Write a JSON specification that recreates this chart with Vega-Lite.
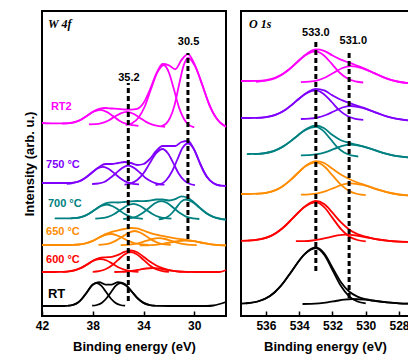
{
"$schema":"https://vega.github.io/schema/vega-lite/v6.json",
"padding":{"left":22,"top":10,"right":0,"bottom":0},
"spacing":15,
"bounds":"flush",
"resolve":{"scale":{"x":"independent","y":"independent"}},
"config":{"view":{"stroke":"#000","strokeWidth":2},"font":"Liberation Sans",
"axis":{"grid":false,"domain":false,"labelOverlap":false,"labelFont":"Liberation Sans","labelFontWeight":"bold","labelFontSize":12,"labelColor":"#000","titleFont":"Liberation Sans","titleFontWeight":"bold","titleFontSize":13,"titleColor":"#000","tickColor":"#000","tickWidth":1.5,"tickSize":-5,"labelPadding":9,"labelFlush":false,"titlePadding":9}},
"datasets":{
"w":[
{"s":"RT2","c":"e","E":42,"I":193},{"s":"RT2","c":"e","E":41,"I":192.6},{"s":"RT2","c":"e","E":40,"I":192.7},{"s":"RT2","c":"e","E":39.5,"I":193.6},{"s":"RT2","c":"e","E":39,"I":195.9},{"s":"RT2","c":"e","E":38.5,"I":199.7},{"s":"RT2","c":"e","E":38,"I":204.2},{"s":"RT2","c":"e","E":37.5,"I":207.2},{"s":"RT2","c":"e","E":37,"I":208},{"s":"RT2","c":"e","E":36.5,"I":207.5},{"s":"RT2","c":"e","E":36,"I":207.1},{"s":"RT2","c":"e","E":35.5,"I":206.5},{"s":"RT2","c":"e","E":35,"I":206.4},{"s":"RT2","c":"e","E":34.5,"I":207.1},{"s":"RT2","c":"e","E":34,"I":212.9},{"s":"RT2","c":"e","E":33.5,"I":226.2},{"s":"RT2","c":"e","E":33,"I":242.1},{"s":"RT2","c":"e","E":32.5,"I":252},{"s":"RT2","c":"e","E":32,"I":250.7},{"s":"RT2","c":"e","E":31.5,"I":246.8},{"s":"RT2","c":"e","E":31,"I":256.1},{"s":"RT2","c":"e","E":30.5,"I":261.9},{"s":"RT2","c":"e","E":30,"I":252.4},{"s":"RT2","c":"e","E":29.5,"I":235.8},{"s":"RT2","c":"e","E":29,"I":217.6},{"s":"RT2","c":"e","E":28.5,"I":202.8},{"s":"RT2","c":"e","E":28,"I":193.8},{"s":"RT2","c":"e","E":27.5,"I":189.4},
{"s":"RT2","c":"a","E":32.6,"I":189.9},{"s":"RT2","c":"a","E":32.25,"I":192},{"s":"RT2","c":"a","E":31.9,"I":198.3},{"s":"RT2","c":"a","E":31.55,"I":211.1},{"s":"RT2","c":"a","E":31.2,"I":231.2},{"s":"RT2","c":"a","E":30.85,"I":250},{"s":"RT2","c":"a","E":30.5,"I":258.2},{"s":"RT2","c":"a","E":29.93,"I":249.6},{"s":"RT2","c":"a","E":29.35,"I":230.5},{"s":"RT2","c":"a","E":28.78,"I":209.9},{"s":"RT2","c":"a","E":28.2,"I":196.8},{"s":"RT2","c":"a","E":27.63,"I":190.2},{"s":"RT2","c":"a","E":27.5,"I":189.3},
{"s":"RT2","c":"b","E":35.4,"I":191},{"s":"RT2","c":"b","E":34.9,"I":192.8},{"s":"RT2","c":"b","E":34.4,"I":198.3},{"s":"RT2","c":"b","E":33.9,"I":209.5},{"s":"RT2","c":"b","E":33.4,"I":227.3},{"s":"RT2","c":"b","E":32.9,"I":243.8},{"s":"RT2","c":"b","E":32.4,"I":251},{"s":"RT2","c":"b","E":32,"I":243.5},{"s":"RT2","c":"b","E":31.6,"I":226.5},{"s":"RT2","c":"b","E":31.2,"I":208.4},{"s":"RT2","c":"b","E":30.8,"I":196.8},{"s":"RT2","c":"b","E":30.4,"I":190.9},{"s":"RT2","c":"b","E":30,"I":188.7},
{"s":"RT2","c":"c","E":40.4,"I":192.5},{"s":"RT2","c":"c","E":39.9,"I":192.8},{"s":"RT2","c":"c","E":39.4,"I":193.9},{"s":"RT2","c":"c","E":38.9,"I":196.5},{"s":"RT2","c":"c","E":38.4,"I":200.7},{"s":"RT2","c":"c","E":37.9,"I":204.5},{"s":"RT2","c":"c","E":37.4,"I":206.1},{"s":"RT2","c":"c","E":36.9,"I":204.1},{"s":"RT2","c":"c","E":36.4,"I":199.9},{"s":"RT2","c":"c","E":35.9,"I":195.3},{"s":"RT2","c":"c","E":35.4,"I":192.3},{"s":"RT2","c":"c","E":34.9,"I":190.8},{"s":"RT2","c":"c","E":34.4,"I":190.1},
{"s":"RT2","c":"d","E":38.3,"I":191.6},{"s":"RT2","c":"d","E":37.8,"I":191.8},{"s":"RT2","c":"d","E":37.3,"I":192.9},{"s":"RT2","c":"d","E":36.8,"I":195.3},{"s":"RT2","c":"d","E":36.3,"I":199.1},{"s":"RT2","c":"d","E":35.8,"I":202.7},{"s":"RT2","c":"d","E":35.3,"I":204.2},{"s":"RT2","c":"d","E":34.8,"I":202.3},{"s":"RT2","c":"d","E":34.3,"I":198.3},{"s":"RT2","c":"d","E":33.8,"I":194.1},{"s":"RT2","c":"d","E":33.3,"I":191.3},{"s":"RT2","c":"d","E":32.8,"I":189.8},{"s":"RT2","c":"d","E":32.3,"I":189.2},
{"s":"750","c":"e","E":42,"I":133},{"s":"750","c":"e","E":41,"I":133},{"s":"750","c":"e","E":40,"I":133},{"s":"750","c":"e","E":39.5,"I":133.4},{"s":"750","c":"e","E":39,"I":135},{"s":"750","c":"e","E":38.5,"I":139},{"s":"750","c":"e","E":38,"I":144},{"s":"750","c":"e","E":37.5,"I":149},{"s":"750","c":"e","E":37,"I":152},{"s":"750","c":"e","E":36.5,"I":152},{"s":"750","c":"e","E":36,"I":153},{"s":"750","c":"e","E":35.5,"I":154},{"s":"750","c":"e","E":35,"I":153},{"s":"750","c":"e","E":34.5,"I":151},{"s":"750","c":"e","E":34,"I":152},{"s":"750","c":"e","E":33.5,"I":157},{"s":"750","c":"e","E":33,"I":165},{"s":"750","c":"e","E":32.5,"I":170},{"s":"750","c":"e","E":32,"I":170},{"s":"750","c":"e","E":31.5,"I":170},{"s":"750","c":"e","E":31,"I":174},{"s":"750","c":"e","E":30.5,"I":175},{"s":"750","c":"e","E":30,"I":166},{"s":"750","c":"e","E":29.5,"I":151},{"s":"750","c":"e","E":29,"I":139},{"s":"750","c":"e","E":28.5,"I":133},{"s":"750","c":"e","E":28,"I":130.5},{"s":"750","c":"e","E":27.5,"I":130},
{"s":"750","c":"a","E":33.05,"I":131},{"s":"750","c":"a","E":32.63,"I":132},{"s":"750","c":"a","E":32.2,"I":136},{"s":"750","c":"a","E":31.78,"I":144},{"s":"750","c":"a","E":31.35,"I":156},{"s":"750","c":"a","E":30.93,"I":168},{"s":"750","c":"a","E":30.5,"I":172.5},{"s":"750","c":"a","E":30.08,"I":168},{"s":"750","c":"a","E":29.65,"I":156},{"s":"750","c":"a","E":29.23,"I":144},{"s":"750","c":"a","E":28.8,"I":136},{"s":"750","c":"a","E":28.38,"I":132},{"s":"750","c":"a","E":27.95,"I":130.5},
{"s":"750","c":"b","E":35.5,"I":131.4},{"s":"750","c":"b","E":35,"I":132.6},{"s":"750","c":"b","E":34.5,"I":136},{"s":"750","c":"b","E":34,"I":142.7},{"s":"750","c":"b","E":33.5,"I":153},{"s":"750","c":"b","E":33,"I":162.8},{"s":"750","c":"b","E":32.5,"I":167},{"s":"750","c":"b","E":32.08,"I":162.8},{"s":"750","c":"b","E":31.65,"I":152.9},{"s":"750","c":"b","E":31.23,"I":142.5},{"s":"750","c":"b","E":30.8,"I":135.6},{"s":"750","c":"b","E":30.38,"I":132.2},{"s":"750","c":"b","E":29.95,"I":130.9},
{"s":"750","c":"c","E":40.05,"I":132.2},{"s":"750","c":"c","E":39.58,"I":133},{"s":"750","c":"c","E":39.1,"I":134.6},{"s":"750","c":"c","E":38.63,"I":137.8},{"s":"750","c":"c","E":38.15,"I":142.5},{"s":"750","c":"c","E":37.68,"I":147.2},{"s":"750","c":"c","E":37.2,"I":149.2},{"s":"750","c":"c","E":36.73,"I":147},{"s":"750","c":"c","E":36.25,"I":142.1},{"s":"750","c":"c","E":35.78,"I":137.3},{"s":"750","c":"c","E":35.3,"I":133.8},{"s":"750","c":"c","E":34.83,"I":132.2},{"s":"750","c":"c","E":34.35,"I":131.6},
{"s":"750","c":"d","E":38.05,"I":132},{"s":"750","c":"d","E":37.58,"I":132.5},{"s":"750","c":"d","E":37.1,"I":134},{"s":"750","c":"d","E":36.63,"I":138},{"s":"750","c":"d","E":36.15,"I":143},{"s":"750","c":"d","E":35.68,"I":148},{"s":"750","c":"d","E":35.2,"I":150.5},{"s":"750","c":"d","E":34.73,"I":148},{"s":"750","c":"d","E":34.25,"I":143},{"s":"750","c":"d","E":33.78,"I":137.5},{"s":"750","c":"d","E":33.3,"I":134},{"s":"750","c":"d","E":32.83,"I":132},{"s":"750","c":"d","E":32.35,"I":131.3},
{"s":"700","c":"e","E":41,"I":97.7},{"s":"700","c":"e","E":40,"I":97.6},{"s":"700","c":"e","E":39.5,"I":97.9},{"s":"700","c":"e","E":39,"I":98.7},{"s":"700","c":"e","E":38.5,"I":100.9},{"s":"700","c":"e","E":38,"I":104.7},{"s":"700","c":"e","E":37.5,"I":109.3},{"s":"700","c":"e","E":37,"I":112.6},{"s":"700","c":"e","E":36.5,"I":113.6},{"s":"700","c":"e","E":36,"I":113.5},{"s":"700","c":"e","E":35.5,"I":114},{"s":"700","c":"e","E":35,"I":114.7},{"s":"700","c":"e","E":34.5,"I":115},{"s":"700","c":"e","E":34,"I":114.8},{"s":"700","c":"e","E":33.5,"I":115.3},{"s":"700","c":"e","E":33,"I":116.5},{"s":"700","c":"e","E":32.5,"I":116.5},{"s":"700","c":"e","E":32,"I":115.5},{"s":"700","c":"e","E":31.5,"I":116.8},{"s":"700","c":"e","E":31,"I":119.7},{"s":"700","c":"e","E":30.5,"I":118.2},{"s":"700","c":"e","E":30,"I":113.3},{"s":"700","c":"e","E":29.5,"I":107.4},{"s":"700","c":"e","E":29,"I":102.3},{"s":"700","c":"e","E":28.5,"I":99},{"s":"700","c":"e","E":28,"I":97.2},{"s":"700","c":"e","E":27.5,"I":96.3},
{"s":"700","c":"a","E":32.8,"I":96.7},{"s":"700","c":"a","E":32.45,"I":97.4},{"s":"700","c":"a","E":32.1,"I":99.2},{"s":"700","c":"a","E":31.75,"I":103},{"s":"700","c":"a","E":31.4,"I":108.6},{"s":"700","c":"a","E":31.05,"I":114.1},{"s":"700","c":"a","E":30.7,"I":116.5},{"s":"700","c":"a","E":30.15,"I":114.1},{"s":"700","c":"a","E":29.6,"I":108.6},{"s":"700","c":"a","E":29.05,"I":103},{"s":"700","c":"a","E":28.5,"I":99.2},{"s":"700","c":"a","E":27.95,"I":97.4},{"s":"700","c":"a","E":27.5,"I":96.5},
{"s":"700","c":"b","E":35.6,"I":97},{"s":"700","c":"b","E":35.1,"I":97.6},{"s":"700","c":"b","E":34.6,"I":99.2},{"s":"700","c":"b","E":34.1,"I":102.7},{"s":"700","c":"b","E":33.6,"I":107.7},{"s":"700","c":"b","E":33.1,"I":112.7},{"s":"700","c":"b","E":32.6,"I":114.8},{"s":"700","c":"b","E":32.1,"I":112.7},{"s":"700","c":"b","E":31.6,"I":107.7},{"s":"700","c":"b","E":31.1,"I":102.7},{"s":"700","c":"b","E":30.6,"I":99.2},{"s":"700","c":"b","E":30.1,"I":97.6},{"s":"700","c":"b","E":29.6,"I":97},
{"s":"700","c":"c","E":39.75,"I":97.7},{"s":"700","c":"c","E":39.28,"I":98.1},{"s":"700","c":"c","E":38.8,"I":99.4},{"s":"700","c":"c","E":38.33,"I":102},{"s":"700","c":"c","E":37.85,"I":106},{"s":"700","c":"c","E":37.38,"I":109.8},{"s":"700","c":"c","E":36.9,"I":111.5},{"s":"700","c":"c","E":36.43,"I":109.8},{"s":"700","c":"c","E":35.95,"I":106},{"s":"700","c":"c","E":35.48,"I":102},{"s":"700","c":"c","E":35,"I":99.2},{"s":"700","c":"c","E":34.53,"I":97.8},{"s":"700","c":"c","E":34.05,"I":97.2},
{"s":"700","c":"d","E":37.8,"I":97.3},{"s":"700","c":"d","E":37.3,"I":97.8},{"s":"700","c":"d","E":36.8,"I":99.1},{"s":"700","c":"d","E":36.3,"I":102},{"s":"700","c":"d","E":35.8,"I":106.2},{"s":"700","c":"d","E":35.3,"I":110.3},{"s":"700","c":"d","E":34.8,"I":112.1},{"s":"700","c":"d","E":34.3,"I":110.3},{"s":"700","c":"d","E":33.8,"I":106.2},{"s":"700","c":"d","E":33.3,"I":102},{"s":"700","c":"d","E":32.8,"I":99.1},{"s":"700","c":"d","E":32.3,"I":97.8},{"s":"700","c":"d","E":31.8,"I":97.3},
{"s":"650","c":"e","E":42,"I":71},{"s":"650","c":"e","E":41,"I":71},{"s":"650","c":"e","E":40,"I":71},{"s":"650","c":"e","E":39.5,"I":71.2},{"s":"650","c":"e","E":39,"I":71.6},{"s":"650","c":"e","E":38.5,"I":72.8},{"s":"650","c":"e","E":38,"I":75.1},{"s":"650","c":"e","E":37.5,"I":78.5},{"s":"650","c":"e","E":37,"I":81.9},{"s":"650","c":"e","E":36.5,"I":84.2},{"s":"650","c":"e","E":36,"I":85.7},{"s":"650","c":"e","E":35.5,"I":87},{"s":"650","c":"e","E":35,"I":88},{"s":"650","c":"e","E":34.5,"I":87.6},{"s":"650","c":"e","E":34,"I":85.5},{"s":"650","c":"e","E":33.5,"I":83.1},{"s":"650","c":"e","E":33,"I":81.3},{"s":"650","c":"e","E":32.5,"I":80.1},{"s":"650","c":"e","E":32,"I":78.9},{"s":"650","c":"e","E":31.5,"I":77.6},{"s":"650","c":"e","E":31,"I":76.8},{"s":"650","c":"e","E":30.5,"I":75.9},{"s":"650","c":"e","E":30,"I":74.8},{"s":"650","c":"e","E":29.5,"I":73.5},{"s":"650","c":"e","E":29,"I":72.3},{"s":"650","c":"e","E":28.5,"I":71.3},{"s":"650","c":"e","E":28,"I":70.8},{"s":"650","c":"e","E":27.5,"I":70.6},
{"s":"650","c":"a","E":34.3,"I":70.6},{"s":"650","c":"a","E":33.7,"I":70.7},{"s":"650","c":"a","E":33.1,"I":71.2},{"s":"650","c":"a","E":32.5,"I":72.1},{"s":"650","c":"a","E":31.9,"I":73.5},{"s":"650","c":"a","E":31.3,"I":74.9},{"s":"650","c":"a","E":30.7,"I":75.5},{"s":"650","c":"a","E":30.1,"I":74.9},{"s":"650","c":"a","E":29.5,"I":73.5},{"s":"650","c":"a","E":28.9,"I":72.1},{"s":"650","c":"a","E":28.3,"I":71.2},{"s":"650","c":"a","E":27.7,"I":70.7},{"s":"650","c":"a","E":27.5,"I":70.6},
{"s":"650","c":"b","E":35.8,"I":70.9},{"s":"650","c":"b","E":35.3,"I":71.1},{"s":"650","c":"b","E":34.8,"I":71.8},{"s":"650","c":"b","E":34.3,"I":73.1},{"s":"650","c":"b","E":33.8,"I":75.1},{"s":"650","c":"b","E":33.3,"I":77},{"s":"650","c":"b","E":32.8,"I":77.8},{"s":"650","c":"b","E":32.3,"I":77},{"s":"650","c":"b","E":31.8,"I":75.1},{"s":"650","c":"b","E":31.3,"I":73.1},{"s":"650","c":"b","E":30.8,"I":71.8},{"s":"650","c":"b","E":30.3,"I":71.1},{"s":"650","c":"b","E":29.8,"I":70.9},
{"s":"650","c":"c","E":39.6,"I":71.1},{"s":"650","c":"c","E":39.1,"I":71.5},{"s":"650","c":"c","E":38.6,"I":72.5},{"s":"650","c":"c","E":38.1,"I":74.6},{"s":"650","c":"c","E":37.6,"I":77.7},{"s":"650","c":"c","E":37.1,"I":80.7},{"s":"650","c":"c","E":36.6,"I":82},{"s":"650","c":"c","E":36.1,"I":80.7},{"s":"650","c":"c","E":35.6,"I":77.7},{"s":"650","c":"c","E":35.1,"I":74.6},{"s":"650","c":"c","E":34.6,"I":72.5},{"s":"650","c":"c","E":34.1,"I":71.5},{"s":"650","c":"c","E":33.6,"I":71.1},
{"s":"650","c":"d","E":37.55,"I":71.2},{"s":"650","c":"d","E":37.08,"I":71.6},{"s":"650","c":"d","E":36.6,"I":72.9},{"s":"650","c":"d","E":36.13,"I":75.6},{"s":"650","c":"d","E":35.65,"I":79.5},{"s":"650","c":"d","E":35.18,"I":83.3},{"s":"650","c":"d","E":34.7,"I":85},{"s":"650","c":"d","E":34.23,"I":83.3},{"s":"650","c":"d","E":33.75,"I":79.5},{"s":"650","c":"d","E":33.28,"I":75.6},{"s":"650","c":"d","E":32.8,"I":72.9},{"s":"650","c":"d","E":32.33,"I":71.6},{"s":"650","c":"d","E":31.85,"I":71.2},
{"s":"600","c":"e","E":42,"I":44},{"s":"600","c":"e","E":41,"I":44},{"s":"600","c":"e","E":40.5,"I":44.1},{"s":"600","c":"e","E":40,"I":44.4},{"s":"600","c":"e","E":39.5,"I":45.4},{"s":"600","c":"e","E":39,"I":47.6},{"s":"600","c":"e","E":38.5,"I":51.1},{"s":"600","c":"e","E":38,"I":55.1},{"s":"600","c":"e","E":37.5,"I":57.8},{"s":"600","c":"e","E":37,"I":58.7},{"s":"600","c":"e","E":36.5,"I":59.2},{"s":"600","c":"e","E":36,"I":61.1},{"s":"600","c":"e","E":35.5,"I":64.1},{"s":"600","c":"e","E":35,"I":65.6},{"s":"600","c":"e","E":34.5,"I":63.7},{"s":"600","c":"e","E":34,"I":59.2},{"s":"600","c":"e","E":33.5,"I":54.4},{"s":"600","c":"e","E":33,"I":50.5},{"s":"600","c":"e","E":32.5,"I":47.8},{"s":"600","c":"e","E":32,"I":45.9},{"s":"600","c":"e","E":31.5,"I":44.8},{"s":"600","c":"e","E":31,"I":44.3},{"s":"600","c":"e","E":30,"I":44},{"s":"600","c":"e","E":29,"I":44},{"s":"600","c":"e","E":28,"I":44},{"s":"600","c":"e","E":27.5,"I":46},
{"s":"600","c":"b","E":36.3,"I":44},{"s":"600","c":"b","E":35.8,"I":44.2},{"s":"600","c":"b","E":35.3,"I":44.5},{"s":"600","c":"b","E":34.8,"I":45.3},{"s":"600","c":"b","E":34.3,"I":46.4},{"s":"600","c":"b","E":33.8,"I":47.5},{"s":"600","c":"b","E":33.3,"I":48},{"s":"600","c":"b","E":32.8,"I":47.5},{"s":"600","c":"b","E":32.3,"I":46.4},{"s":"600","c":"b","E":31.8,"I":45.3},{"s":"600","c":"b","E":31.3,"I":44.5},{"s":"600","c":"b","E":30.8,"I":44.2},{"s":"600","c":"b","E":30.3,"I":44},
{"s":"600","c":"c","E":40.4,"I":44.1},{"s":"600","c":"c","E":39.9,"I":44.6},{"s":"600","c":"c","E":39.4,"I":45.8},{"s":"600","c":"c","E":38.9,"I":48.2},{"s":"600","c":"c","E":38.4,"I":51.9},{"s":"600","c":"c","E":37.9,"I":55.5},{"s":"600","c":"c","E":37.4,"I":57},{"s":"600","c":"c","E":36.9,"I":55.5},{"s":"600","c":"c","E":36.4,"I":51.9},{"s":"600","c":"c","E":35.9,"I":48.2},{"s":"600","c":"c","E":35.4,"I":45.8},{"s":"600","c":"c","E":34.9,"I":44.6},{"s":"600","c":"c","E":34.4,"I":44.1},
{"s":"600","c":"d","E":38,"I":44.2},{"s":"600","c":"d","E":37.5,"I":44.9},{"s":"600","c":"d","E":37,"I":46.7},{"s":"600","c":"d","E":36.5,"I":50.5},{"s":"600","c":"d","E":36,"I":56.1},{"s":"600","c":"d","E":35.5,"I":61.6},{"s":"600","c":"d","E":35,"I":64},{"s":"600","c":"d","E":34.5,"I":61.6},{"s":"600","c":"d","E":34,"I":56.1},{"s":"600","c":"d","E":33.5,"I":50.5},{"s":"600","c":"d","E":33,"I":46.7},{"s":"600","c":"d","E":32.5,"I":44.9},{"s":"600","c":"d","E":32,"I":44.2},
{"s":"RT","c":"e","E":42,"I":10},{"s":"RT","c":"e","E":41,"I":10},{"s":"RT","c":"e","E":40.5,"I":10},{"s":"RT","c":"e","E":40,"I":10.2},{"s":"RT","c":"e","E":39.5,"I":11.3},{"s":"RT","c":"e","E":39,"I":15.1},{"s":"RT","c":"e","E":38.5,"I":23},{"s":"RT","c":"e","E":38,"I":31.5},{"s":"RT","c":"e","E":37.5,"I":33.9},{"s":"RT","c":"e","E":37,"I":31.4},{"s":"RT","c":"e","E":36.5,"I":31.4},{"s":"RT","c":"e","E":36,"I":33.9},{"s":"RT","c":"e","E":35.5,"I":32.1},{"s":"RT","c":"e","E":35,"I":25.5},{"s":"RT","c":"e","E":34.5,"I":18.1},{"s":"RT","c":"e","E":34,"I":13.1},{"s":"RT","c":"e","E":33.5,"I":10.9},{"s":"RT","c":"e","E":33,"I":10.1},{"s":"RT","c":"e","E":32,"I":10},{"s":"RT","c":"e","E":30,"I":10},{"s":"RT","c":"e","E":29,"I":10},{"s":"RT","c":"e","E":28.5,"I":10.5},{"s":"RT","c":"e","E":28,"I":12},{"s":"RT","c":"e","E":27.5,"I":14},
{"s":"RT","c":"c","E":39.95,"I":10.3},{"s":"RT","c":"c","E":39.58,"I":11},{"s":"RT","c":"c","E":39.2,"I":13.1},{"s":"RT","c":"c","E":38.83,"I":17.5},{"s":"RT","c":"c","E":38.45,"I":24},{"s":"RT","c":"c","E":38.08,"I":30.3},{"s":"RT","c":"c","E":37.7,"I":33},{"s":"RT","c":"c","E":37.33,"I":30.3},{"s":"RT","c":"c","E":36.95,"I":24},{"s":"RT","c":"c","E":36.58,"I":17.5},{"s":"RT","c":"c","E":36.2,"I":13.1},{"s":"RT","c":"c","E":35.83,"I":11},{"s":"RT","c":"c","E":35.45,"I":10.3},
{"s":"RT","c":"d","E":38.05,"I":10.3},{"s":"RT","c":"d","E":37.68,"I":11},{"s":"RT","c":"d","E":37.3,"I":13.1},{"s":"RT","c":"d","E":36.93,"I":17.5},{"s":"RT","c":"d","E":36.55,"I":24},{"s":"RT","c":"d","E":36.18,"I":30.3},{"s":"RT","c":"d","E":35.8,"I":33},{"s":"RT","c":"d","E":35.35,"I":30.3},{"s":"RT","c":"d","E":34.9,"I":24},{"s":"RT","c":"d","E":34.45,"I":17.5},{"s":"RT","c":"d","E":34,"I":13.1},{"s":"RT","c":"d","E":33.55,"I":11},{"s":"RT","c":"d","E":33.1,"I":10.3}
],
"o":[
{"s":"RT2","c":"e","E":537.5,"I":235},{"s":"RT2","c":"e","E":537,"I":235},{"s":"RT2","c":"e","E":536.5,"I":235.1},{"s":"RT2","c":"e","E":536,"I":235.9},{"s":"RT2","c":"e","E":535.5,"I":238},{"s":"RT2","c":"e","E":535,"I":242},{"s":"RT2","c":"e","E":534.5,"I":248.3},{"s":"RT2","c":"e","E":534,"I":256},{"s":"RT2","c":"e","E":533.5,"I":262.8},{"s":"RT2","c":"e","E":533,"I":266.6},{"s":"RT2","c":"e","E":532.5,"I":265.2},{"s":"RT2","c":"e","E":532,"I":260.5},{"s":"RT2","c":"e","E":531.5,"I":256.3},{"s":"RT2","c":"e","E":531,"I":253.4},{"s":"RT2","c":"e","E":530.5,"I":250.2},{"s":"RT2","c":"e","E":530,"I":246.9},{"s":"RT2","c":"e","E":529.5,"I":242.9},{"s":"RT2","c":"e","E":529,"I":239.2},{"s":"RT2","c":"e","E":528.5,"I":236.2},{"s":"RT2","c":"e","E":528,"I":234.2},{"s":"RT2","c":"e","E":527.4,"I":232.8},
{"s":"RT2","c":"m","E":536.6,"I":234.2},{"s":"RT2","c":"m","E":536,"I":235.3},{"s":"RT2","c":"m","E":535.4,"I":238},{"s":"RT2","c":"m","E":534.8,"I":243.9},{"s":"RT2","c":"m","E":534.2,"I":252.5},{"s":"RT2","c":"m","E":533.6,"I":261},{"s":"RT2","c":"m","E":533,"I":264.6},{"s":"RT2","c":"m","E":532.53,"I":260.8},{"s":"RT2","c":"m","E":532.05,"I":252.3},{"s":"RT2","c":"m","E":531.58,"I":243.5},{"s":"RT2","c":"m","E":531.1,"I":237.5},{"s":"RT2","c":"m","E":530.63,"I":234.6},{"s":"RT2","c":"m","E":530.15,"I":233.5},
{"s":"RT2","c":"n","E":533.9,"I":233.8},{"s":"RT2","c":"n","E":533.4,"I":234.3},{"s":"RT2","c":"n","E":532.9,"I":235.7},{"s":"RT2","c":"n","E":532.4,"I":238.8},{"s":"RT2","c":"n","E":531.9,"I":243.5},{"s":"RT2","c":"n","E":531.4,"I":248},{"s":"RT2","c":"n","E":530.9,"I":249.9},{"s":"RT2","c":"n","E":530.2,"I":247.7},{"s":"RT2","c":"n","E":529.5,"I":242.9},{"s":"RT2","c":"n","E":528.8,"I":237.9},{"s":"RT2","c":"n","E":528.1,"I":234.5},{"s":"RT2","c":"n","E":527.4,"I":232.8},
{"s":"750","c":"e","E":537.5,"I":198},{"s":"750","c":"e","E":537,"I":198},{"s":"750","c":"e","E":536.5,"I":198.1},{"s":"750","c":"e","E":536,"I":198.8},{"s":"750","c":"e","E":535.5,"I":200.7},{"s":"750","c":"e","E":535,"I":204.5},{"s":"750","c":"e","E":534.5,"I":210.4},{"s":"750","c":"e","E":534,"I":217.5},{"s":"750","c":"e","E":533.5,"I":223.8},{"s":"750","c":"e","E":533,"I":227.2},{"s":"750","c":"e","E":532.5,"I":225.6},{"s":"750","c":"e","E":532,"I":220.6},{"s":"750","c":"e","E":531.5,"I":216.2},{"s":"750","c":"e","E":531,"I":213.2},{"s":"750","c":"e","E":530.5,"I":210.1},{"s":"750","c":"e","E":530,"I":207.4},{"s":"750","c":"e","E":529.5,"I":204.1},{"s":"750","c":"e","E":529,"I":201},{"s":"750","c":"e","E":528.5,"I":198.5},{"s":"750","c":"e","E":528,"I":196.8},{"s":"750","c":"e","E":527.4,"I":195.6},
{"s":"750","c":"m","E":536.6,"I":198.1},{"s":"750","c":"m","E":536,"I":198.9},{"s":"750","c":"m","E":535.4,"I":201.3},{"s":"750","c":"m","E":534.8,"I":206.6},{"s":"750","c":"m","E":534.2,"I":214.6},{"s":"750","c":"m","E":533.6,"I":222.4},{"s":"750","c":"m","E":533,"I":225.7},{"s":"750","c":"m","E":532.53,"I":222.1},{"s":"750","c":"m","E":532.05,"I":214},{"s":"750","c":"m","E":531.58,"I":205.6},{"s":"750","c":"m","E":531.1,"I":200},{"s":"750","c":"m","E":530.63,"I":197.2},{"s":"750","c":"m","E":530.15,"I":196.1},
{"s":"750","c":"n","E":533.9,"I":197},{"s":"750","c":"n","E":533.4,"I":197.3},{"s":"750","c":"n","E":532.9,"I":198.5},{"s":"750","c":"n","E":532.4,"I":201},{"s":"750","c":"n","E":531.9,"I":204.8},{"s":"750","c":"n","E":531.4,"I":208.5},{"s":"750","c":"n","E":530.9,"I":210},{"s":"750","c":"n","E":530.2,"I":208.1},{"s":"750","c":"n","E":529.5,"I":204.1},{"s":"750","c":"n","E":528.8,"I":199.9},{"s":"750","c":"n","E":528.1,"I":197.1},{"s":"750","c":"n","E":527.4,"I":195.6},
{"s":"700","c":"e","E":537.15,"I":161.9},{"s":"700","c":"e","E":537,"I":162},{"s":"700","c":"e","E":536.5,"I":162.2},{"s":"700","c":"e","E":536,"I":163},{"s":"700","c":"e","E":535.5,"I":165.1},{"s":"700","c":"e","E":535,"I":169.1},{"s":"700","c":"e","E":534.5,"I":174.9},{"s":"700","c":"e","E":534,"I":181.8},{"s":"700","c":"e","E":533.5,"I":187.6},{"s":"700","c":"e","E":533,"I":190.5},{"s":"700","c":"e","E":532.5,"I":187.7},{"s":"700","c":"e","E":532,"I":180.9},{"s":"700","c":"e","E":531.5,"I":175.8},{"s":"700","c":"e","E":531,"I":173.1},{"s":"700","c":"e","E":530.5,"I":171.1},{"s":"700","c":"e","E":530,"I":168.8},{"s":"700","c":"e","E":529.5,"I":166.1},{"s":"700","c":"e","E":529,"I":163.4},{"s":"700","c":"e","E":528.5,"I":161.2},{"s":"700","c":"e","E":528,"I":159.6},{"s":"700","c":"e","E":527.4,"I":158.5},
{"s":"700","c":"m","E":536.75,"I":162},{"s":"700","c":"m","E":536.13,"I":162.7},{"s":"700","c":"m","E":535.5,"I":165.1},{"s":"700","c":"m","E":534.88,"I":170.4},{"s":"700","c":"m","E":534.25,"I":178.3},{"s":"700","c":"m","E":533.63,"I":186.1},{"s":"700","c":"m","E":533,"I":189.2},{"s":"700","c":"m","E":532.58,"I":185.6},{"s":"700","c":"m","E":532.15,"I":177.5},{"s":"700","c":"m","E":531.73,"I":169.1},{"s":"700","c":"m","E":531.3,"I":163.4},{"s":"700","c":"m","E":530.88,"I":160.6},{"s":"700","c":"m","E":530.45,"I":159.5},
{"s":"700","c":"n","E":533.9,"I":160.7},{"s":"700","c":"n","E":533.4,"I":160.9},{"s":"700","c":"n","E":532.9,"I":161.8},{"s":"700","c":"n","E":532.4,"I":163.9},{"s":"700","c":"n","E":531.9,"I":167.1},{"s":"700","c":"n","E":531.4,"I":170.2},{"s":"700","c":"n","E":530.9,"I":171.4},{"s":"700","c":"n","E":530.2,"I":169.7},{"s":"700","c":"n","E":529.5,"I":166.1},{"s":"700","c":"n","E":528.8,"I":162.4},{"s":"700","c":"n","E":528.1,"I":159.8},{"s":"700","c":"n","E":527.4,"I":158.5},
{"s":"650","c":"e","E":537.5,"I":122},{"s":"650","c":"e","E":537,"I":122},{"s":"650","c":"e","E":536.5,"I":122.3},{"s":"650","c":"e","E":536,"I":123.1},{"s":"650","c":"e","E":535.5,"I":125.3},{"s":"650","c":"e","E":535,"I":129.6},{"s":"650","c":"e","E":534.5,"I":136.3},{"s":"650","c":"e","E":534,"I":144.4},{"s":"650","c":"e","E":533.5,"I":151.4},{"s":"650","c":"e","E":533,"I":154.9},{"s":"650","c":"e","E":532.5,"I":153},{"s":"650","c":"e","E":532,"I":147.2},{"s":"650","c":"e","E":531.5,"I":141.4},{"s":"650","c":"e","E":531,"I":137},{"s":"650","c":"e","E":530.5,"I":133.5},{"s":"650","c":"e","E":530,"I":130.7},{"s":"650","c":"e","E":529.5,"I":127.7},{"s":"650","c":"e","E":529,"I":125.1},{"s":"650","c":"e","E":528.5,"I":123},{"s":"650","c":"e","E":528,"I":121.5},{"s":"650","c":"e","E":527.4,"I":120.5},
{"s":"650","c":"m","E":536.6,"I":122.2},{"s":"650","c":"m","E":536,"I":123.1},{"s":"650","c":"m","E":535.4,"I":126},{"s":"650","c":"m","E":534.8,"I":132.1},{"s":"650","c":"m","E":534.2,"I":141},{"s":"650","c":"m","E":533.6,"I":149.9},{"s":"650","c":"m","E":533,"I":153.6},{"s":"650","c":"m","E":532.5,"I":149.7},{"s":"650","c":"m","E":532,"I":140.6},{"s":"650","c":"m","E":531.5,"I":131.4},{"s":"650","c":"m","E":531,"I":125.1},{"s":"650","c":"m","E":530.5,"I":122},{"s":"650","c":"m","E":530,"I":120.9},
{"s":"650","c":"n","E":533.9,"I":121.4},{"s":"650","c":"n","E":533.4,"I":121.7},{"s":"650","c":"n","E":532.9,"I":122.7},{"s":"650","c":"n","E":532.4,"I":124.9},{"s":"650","c":"n","E":531.9,"I":128.2},{"s":"650","c":"n","E":531.4,"I":131.4},{"s":"650","c":"n","E":530.9,"I":132.7},{"s":"650","c":"n","E":530.2,"I":131.1},{"s":"650","c":"n","E":529.5,"I":127.7},{"s":"650","c":"n","E":528.8,"I":124.2},{"s":"650","c":"n","E":528.1,"I":121.7},{"s":"650","c":"n","E":527.4,"I":120.5},
{"s":"600","c":"e","E":537.5,"I":75.2},{"s":"600","c":"e","E":537,"I":75.5},{"s":"600","c":"e","E":536.5,"I":76.3},{"s":"600","c":"e","E":536,"I":78.2},{"s":"600","c":"e","E":535.5,"I":81.8},{"s":"600","c":"e","E":535,"I":87.8},{"s":"600","c":"e","E":534.5,"I":95.8},{"s":"600","c":"e","E":534,"I":104.4},{"s":"600","c":"e","E":533.5,"I":111.5},{"s":"600","c":"e","E":533,"I":115},{"s":"600","c":"e","E":532.5,"I":111.9},{"s":"600","c":"e","E":532,"I":103.3},{"s":"600","c":"e","E":531.5,"I":93.8},{"s":"600","c":"e","E":531,"I":86.6},{"s":"600","c":"e","E":530.5,"I":82},{"s":"600","c":"e","E":530,"I":79.3},{"s":"600","c":"e","E":529.5,"I":77.2},{"s":"600","c":"e","E":529,"I":75.9},{"s":"600","c":"e","E":528.5,"I":74.9},{"s":"600","c":"e","E":528,"I":74.4},{"s":"600","c":"e","E":527.4,"I":74.1},
{"s":"600","c":"m","E":537.05,"I":75.4},{"s":"600","c":"m","E":536.38,"I":76.6},{"s":"600","c":"m","E":535.7,"I":80.1},{"s":"600","c":"m","E":535.03,"I":87.5},{"s":"600","c":"m","E":534.35,"I":98.4},{"s":"600","c":"m","E":533.68,"I":109},{"s":"600","c":"m","E":533,"I":113.6},{"s":"600","c":"m","E":532.5,"I":108.9},{"s":"600","c":"m","E":532,"I":98.1},{"s":"600","c":"m","E":531.5,"I":87.1},{"s":"600","c":"m","E":531,"I":79.6},{"s":"600","c":"m","E":530.5,"I":76},{"s":"600","c":"m","E":530,"I":74.7},
{"s":"600","c":"n","E":534.2,"I":74.8},{"s":"600","c":"n","E":533.7,"I":74.9},{"s":"600","c":"n","E":533.2,"I":75.5},{"s":"600","c":"n","E":532.7,"I":76.8},{"s":"600","c":"n","E":532.2,"I":78.7},{"s":"600","c":"n","E":531.7,"I":80.6},{"s":"600","c":"n","E":531.2,"I":81.4},{"s":"600","c":"n","E":530.55,"I":80.5},{"s":"600","c":"n","E":529.9,"I":78.5},{"s":"600","c":"n","E":529.25,"I":76.5},{"s":"600","c":"n","E":528.6,"I":75.05},{"s":"600","c":"n","E":527.95,"I":74.35},{"s":"600","c":"n","E":527.4,"I":74.1},
{"s":"RT","c":"e","E":537.5,"I":12.3},{"s":"RT","c":"e","E":537,"I":13},{"s":"RT","c":"e","E":536.5,"I":14.5},{"s":"RT","c":"e","E":536,"I":17.7},{"s":"RT","c":"e","E":535.5,"I":23.3},{"s":"RT","c":"e","E":535,"I":32.2},{"s":"RT","c":"e","E":534.5,"I":43.6},{"s":"RT","c":"e","E":534,"I":55.5},{"s":"RT","c":"e","E":533.5,"I":64.6},{"s":"RT","c":"e","E":533,"I":68.5},{"s":"RT","c":"e","E":532.5,"I":62.6},{"s":"RT","c":"e","E":532,"I":48.4},{"s":"RT","c":"e","E":531.5,"I":34.1},{"s":"RT","c":"e","E":531,"I":24.5},{"s":"RT","c":"e","E":530.5,"I":19.4},{"s":"RT","c":"e","E":530,"I":16.8},{"s":"RT","c":"e","E":529.5,"I":15.3},{"s":"RT","c":"e","E":529,"I":14.2},{"s":"RT","c":"e","E":528.5,"I":13.3},{"s":"RT","c":"e","E":528,"I":12.7},{"s":"RT","c":"e","E":527.4,"I":12.3},
{"s":"RT","c":"m","E":537.2,"I":12.6},{"s":"RT","c":"m","E":536.5,"I":14.5},{"s":"RT","c":"m","E":535.8,"I":19.6},{"s":"RT","c":"m","E":535.1,"I":30.2},{"s":"RT","c":"m","E":534.4,"I":46},{"s":"RT","c":"m","E":533.7,"I":61.4},{"s":"RT","c":"m","E":533,"I":68},{"s":"RT","c":"m","E":532.5,"I":61.4},{"s":"RT","c":"m","E":532,"I":46},{"s":"RT","c":"m","E":531.5,"I":30.2},{"s":"RT","c":"m","E":531,"I":19.6},{"s":"RT","c":"m","E":530.5,"I":14.5},{"s":"RT","c":"m","E":530,"I":12.6},
{"s":"RT","c":"n","E":533.8,"I":12},{"s":"RT","c":"n","E":533.3,"I":12.2},{"s":"RT","c":"n","E":532.8,"I":12.7},{"s":"RT","c":"n","E":532.3,"I":13.6},{"s":"RT","c":"n","E":531.8,"I":15},{"s":"RT","c":"n","E":531.3,"I":16.4},{"s":"RT","c":"n","E":530.8,"I":17},{"s":"RT","c":"n","E":530.1,"I":16.4},{"s":"RT","c":"n","E":529.4,"I":15},{"s":"RT","c":"n","E":528.7,"I":13.6},{"s":"RT","c":"n","E":528,"I":12.7},{"s":"RT","c":"n","E":527.4,"I":12.3}
]},
"hconcat":[
{"width":184,"height":305,
"layer":[
{"data":{"name":"w"},"mark":{"type":"line","interpolate":"monotone","strokeWidth":1.8},
"encoding":{
"x":{"field":"E","type":"quantitative","scale":{"domain":[42,27.5],"nice":false,"zero":false},"axis":{"title":"Binding energy (eV)","values":[42,40,38,36,34,32,30,28],"format":"d"}},
"y":{"field":"I","type":"quantitative","scale":{"domain":[0,305],"nice":false,"zero":false},"axis":{"title":"Intensity (arb. u.)","labels":false,"ticks":false,"minExtent":0,"maxExtent":0,"titlePadding":6}},
"color":{"field":"s","type":"nominal","scale":{"domain":["RT2","750","700","650","600","RT"],"range":["#ff00ff","#8000ff","#008080","#ff8c00","#ff0000","#000000"]},"legend":null},
"detail":{"field":"c"},
"order":{"field":"E","sort":"descending"}}},
{"data":{"values":[{"E":35.2,"I":15,"I2":233},{"E":30.5,"I":77,"I2":263}]},
"mark":{"type":"rule","strokeDash":[5,3],"strokeWidth":3,"color":"#000"},
"encoding":{"x":{"field":"E","type":"quantitative"},"y":{"field":"I","type":"quantitative"},"y2":{"field":"I2"}}},
{"data":{"values":[{"E":35.15,"I":235,"t":"35.2"},{"E":30.45,"I":271,"t":"30.5"}]},
"mark":{"type":"text","fontWeight":"bold","fontSize":11,"align":"center","baseline":"alphabetic","color":"#000"},
"encoding":{"x":{"field":"E","type":"quantitative"},"y":{"field":"I","type":"quantitative"},"text":{"field":"t"}}},
{"data":{"values":[{"s":"RT2","t":"RT2","E":41.3,"I":209},{"s":"750","t":"750 °C","E":41.68,"I":151.5},{"s":"700","t":"700 °C","E":41.53,"I":112.5},{"s":"650","t":"650 °C","E":41.68,"I":84},{"s":"600","t":"600 °C","E":41.68,"I":56}]},
"mark":{"type":"text","fontWeight":"bold","fontSize":11,"align":"left","baseline":"middle"},
"encoding":{"x":{"field":"E","type":"quantitative"},"y":{"field":"I","type":"quantitative"},"text":{"field":"t"},"color":{"field":"s","type":"nominal","legend":null}}},
{"data":{"values":[{"s":"RT","t":"RT","E":41.53,"I":22}]},
"mark":{"type":"text","fontWeight":"bold","fontSize":13,"align":"left","baseline":"middle"},
"encoding":{"x":{"field":"E","type":"quantitative"},"y":{"field":"I","type":"quantitative"},"text":{"field":"t"},"color":{"field":"s","type":"nominal","legend":null}}},
{"data":{"values":[{"E":41.53,"I":288,"t":"W 4f"}]},
"mark":{"type":"text","font":"Liberation Serif","fontStyle":"italic","fontWeight":"bold","fontSize":12,"align":"left","baseline":"alphabetic","color":"#000"},
"encoding":{"x":{"field":"E","type":"quantitative"},"y":{"field":"I","type":"quantitative"},"text":{"field":"t"}}}
]},
{"width":168,"height":305,
"layer":[
{"data":{"name":"o"},"mark":{"type":"line","interpolate":"monotone","strokeWidth":1.8},
"encoding":{
"x":{"field":"E","type":"quantitative","scale":{"domain":[537.5,527.4],"nice":false,"zero":false},"axis":{"title":"Binding energy (eV)","values":[536,534,532,530,528],"format":"d"}},
"y":{"field":"I","type":"quantitative","scale":{"domain":[0,305],"nice":false,"zero":false},"axis":null},
"color":{"field":"s","type":"nominal","scale":{"domain":["RT2","750","700","650","600","RT"],"range":["#ff00ff","#8000ff","#008080","#ff8c00","#ff0000","#000000"]},"legend":null},
"detail":{"field":"c"},
"order":{"field":"E","sort":"descending"}}},
{"data":{"values":[{"E":533.0,"I":45,"I2":275},{"E":531.0,"I":18,"I2":265}]},
"mark":{"type":"rule","strokeDash":[5,3],"strokeWidth":3,"color":"#000"},
"encoding":{"x":{"field":"E","type":"quantitative"},"y":{"field":"I","type":"quantitative","axis":null},"y2":{"field":"I2"}}},
{"data":{"values":[{"E":533.0,"I":280,"t":"533.0"},{"E":530.75,"I":272,"t":"531.0"}]},
"mark":{"type":"text","fontWeight":"bold","fontSize":11,"align":"center","baseline":"alphabetic","color":"#000"},
"encoding":{"x":{"field":"E","type":"quantitative"},"y":{"field":"I","type":"quantitative","axis":null},"text":{"field":"t"}}},
{"data":{"values":[{"E":537.02,"I":288,"t":"O 1s"}]},
"mark":{"type":"text","font":"Liberation Serif","fontStyle":"italic","fontWeight":"bold","fontSize":12,"align":"left","baseline":"alphabetic","color":"#000"},
"encoding":{"x":{"field":"E","type":"quantitative"},"y":{"field":"I","type":"quantitative","axis":null},"text":{"field":"t"}}}
]}
]
}
